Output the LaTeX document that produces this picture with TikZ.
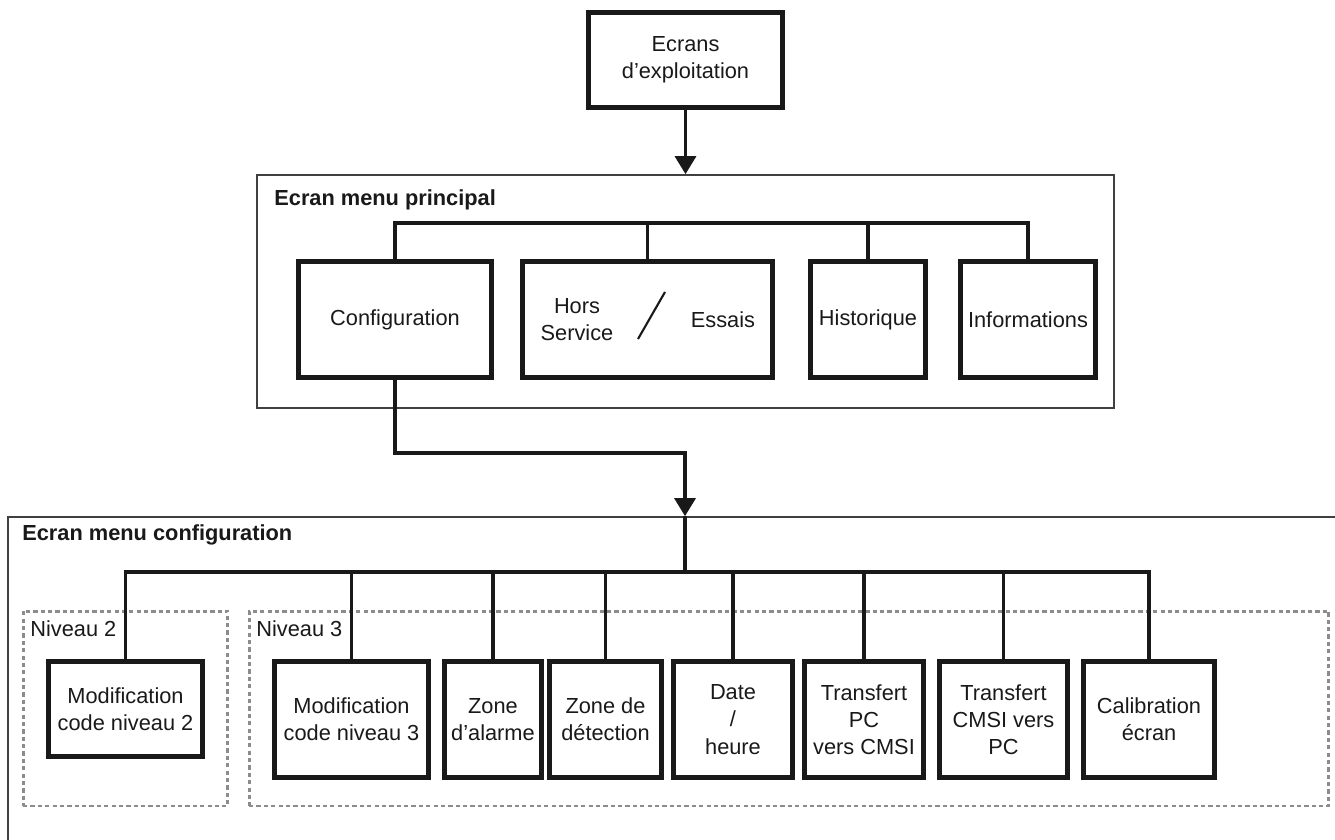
\documentclass[tikz,border=0pt]{standalone}
\usepackage{fontspec}
\setmainfont{Liberation Sans}
\usepackage{tikz}
\usetikzlibrary{arrows.meta, positioning}

\begin{document}
\begin{tikzpicture}[x=0.02cm, y=-0.02cm,
    boite/.style={draw=black!90, line width=2.6pt, align=center, inner sep=0pt, text=black!90,
        font=\fontsize{12.4}{15.5}\selectfont},
    texte/.style={align=center, inner sep=0pt, text=black!90, font=\fontsize{12.4}{15.5}\selectfont},
    lien/.style={draw=black!90, line width=1.8pt},
    fleche/.style={lien, -{Triangle[length=0.36cm, width=0.42cm]}},
    cadre/.style={draw=black!75, line width=1pt, inner sep=0pt},
    niveau/.style={draw=black!45, line width=1.7pt, dash pattern=on 2.4pt off 1.8pt, inner sep=0pt},
    titre/.style={anchor=west, inner sep=0pt, text=black!90, font=\fontsize{12.4}{15}\selectfont\bfseries},
    etiquette/.style={anchor=west, inner sep=0pt, text=black!90, font=\fontsize{12.4}{15}\selectfont}]

    \useasboundingbox (0,0) rectangle (1335,839);

    % =================================================================
    % 1. CADRES DES ECRANS (MENU PRINCIPAL, MENU CONFIGURATION)
    % =================================================================
    \node[cadre, minimum width=17.14cm, minimum height=4.66cm] (CadrePrincipal) at (685.5,291.5) {};
    \node[titre] (TitrePrincipal) at (274,200) {Ecran menu principal};

    % le cadre configuration sort de l'image a droite et en bas
    \node[cadre, minimum width=26.8cm, minimum height=6.8cm] (CadreConfig) at (678,687) {};
    \node[titre] (TitreConfig) at (22,535) {Ecran menu configuration};

    % Zones en pointille des niveaux d'acces
    \node[niveau, minimum width=4.1cm, minimum height=3.9cm] (Niveau2) at (125.5,708.5) {};
    \node[niveau, minimum width=21.6cm, minimum height=3.9cm] (Niveau3) at (789,708.5) {};
    \node[etiquette] (LabelN2) at (30,629) {Niveau 2};
    \node[etiquette] (LabelN3) at (256,629) {Niveau 3};

    % =================================================================
    % 2. BOITES
    % =================================================================
    \node[boite, minimum width=3.88cm, minimum height=1.9cm] (Ecrans) at (685.5,60) {Ecrans\\d’exploitation};

    % --- Menu principal ---
    \node[boite, minimum width=3.86cm, minimum height=2.32cm] (Config) at (395,319.5) {Configuration};
    \node[boite, minimum width=5.0cm, minimum height=2.32cm] (Hors) at (647.5,319.5) {};
    \node[texte] (HorsTexte) at (577,319.5) {Hors\\Service};
    \node[texte] (EssaisTexte) at (723,319.5) {Essais};
    \draw[black!90, line width=1.2pt] (665,292) -- (638,339); % barre oblique
    \node[boite, minimum width=2.3cm, minimum height=2.32cm] (Histo) at (868,319.5) {Historique};
    \node[boite, minimum width=2.7cm, minimum height=2.32cm] (Info) at (1028,319.5) {Informations};

    % --- Menu configuration ---
    \node[boite, minimum width=3.08cm, minimum height=1.9cm] (Modif2) at (125.5,709) {Modification\\code niveau 2};
    \node[boite, minimum width=3.08cm, minimum height=2.32cm] (Modif3) at (351.5,719.5) {Modification\\code niveau 3};
    \node[boite, minimum width=1.94cm, minimum height=2.32cm] (Alarme) at (493,719.5) {Zone\\d’alarme};
    \node[boite, minimum width=2.24cm, minimum height=2.32cm] (Detect) at (605.5,719.5) {Zone de\\détection};
    \node[boite, minimum width=2.38cm, minimum height=2.32cm] (Date) at (733,719.5) {Date\\/\\heure};
    \node[boite, minimum width=2.38cm, minimum height=2.32cm] (TransPC) at (864,719.5) {Transfert\\PC\\vers CMSI};
    \node[boite, minimum width=2.56cm, minimum height=2.32cm] (TransCMSI) at (1003.5,719.5) {Transfert\\CMSI vers\\PC};
    \node[boite, minimum width=2.62cm, minimum height=2.32cm] (Calib) at (1149,719.5) {Calibration\\écran};

    % =================================================================
    % 3. LIAISONS
    % =================================================================
    \coordinate (BusP) at (647.5,223);
    \coordinate (Coude) at (685,453);
    \coordinate (BusC) at (685,572);

    \draw[fleche] (Ecrans.south) -- (Ecrans.south |- CadrePrincipal.north);

    \draw[lien] (Config.north) |- (BusP) -| (Info.north);
    \foreach \n in {Hors, Histo}
        \draw[lien] (\n.north) -- (\n.north |- BusP);

    \draw[fleche] (Config.south) |- (Coude) -- (Coude |- CadreConfig.north);
    \draw[lien] (Coude |- CadreConfig.north) -- (BusC);

    \draw[lien] (Modif2.north) |- (BusC) -| (Calib.north);
    \foreach \n in {Modif3, Alarme, Detect, Date, TransPC, TransCMSI}
        \draw[lien] (\n.north) -- (\n.north |- BusC);

\end{tikzpicture}
\end{document}
